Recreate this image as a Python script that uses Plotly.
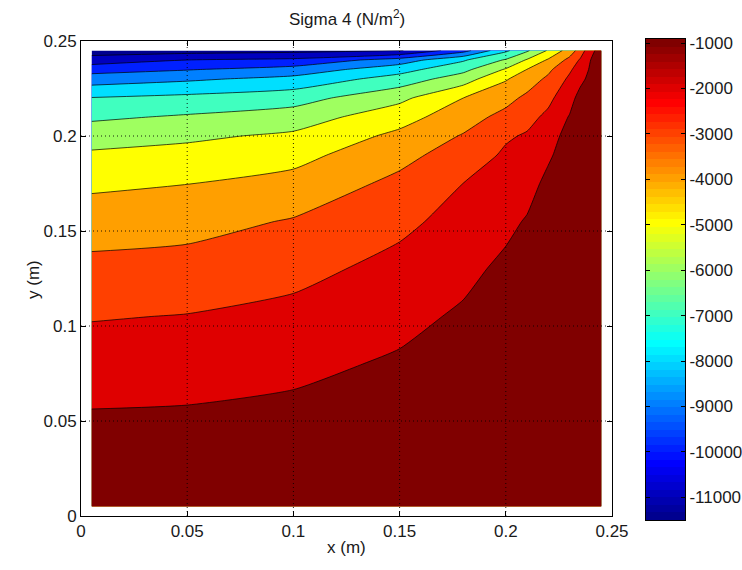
import plotly.graph_objects as go

# ---------------- data ----------------
x_m = [0.005, 0.05, 0.1, 0.15, 0.18, 0.2, 0.21, 0.22, 0.23, 0.235, 0.24, 0.245]
y_m = [0.005, 0.03, 0.055, 0.08, 0.105, 0.13, 0.155, 0.175, 0.19, 0.2,
       0.21, 0.22, 0.23, 0.235, 0.24, 0.245]

# Sigma 4 (N/m^2), one row per y value (bottom to top), columns follow x_m
sigma4 = [
    [-650, -640, -600, -550, -500, -450, -420, -400, -360, -350, -335, -320],
    [-700, -680, -650, -600, -550, -470, -450, -420, -370, -360, -345, -330],
    [-972, -930, -781, -700, -600, -500, -480, -450, -380, -370, -355, -340],
    [-1511, -1446, -1257, -864, -650, -550, -530, -480, -390, -380, -365, -350],
    [-2061, -1963, -1733, -1288, -857, -650, -620, -530, -410, -400, -380, -370],
    [-2722, -2617, -2282, -1712, -1263, -786, -750, -580, -440, -420, -400, -390],
    [-3480, -3351, -2923, -2217, -1669, -1232, -920, -650, -470, -440, -420, -420],
    [-4188, -4018, -3667, -2761, -1994, -1589, -1353, -760, -500, -460, -440, -440],
    [-4843, -4675, -4325, -3294, -2549, -1857, -1684, -1133, -540, -490, -470, -460],
    [-5448, -5183, -4825, -3768, -2925, -2115, -1905, -1465, -600, -520, -500, -480],
    [-6167, -5887, -5520, -4389, -3444, -2690, -2284, -1797, -937, -560, -540, -500],
    [-6960, -6737, -6417, -5250, -4000, -3326, -2781, -2225, -1384, -650, -600, -520],
    [-8500, -8161, -7710, -6571, -5476, -4082, -3519, -2803, -1830, -1272, -700, -540],
    [-9400, -9057, -8593, -7385, -6274, -4902, -3981, -3213, -2141, -1580, -850, -550],
    [-10556, -10000, -9778, -8545, -7116, -5898, -4906, -3880, -2729, -1889, -990, -580],
    [-11500, -11450, -11300, -11100, -9400, -7200, -6150, -4900, -3540, -2590, -1250, -600],
]

contour_levels = [-11000, -10000, -9000, -8000, -7000, -6000,
                  -5000, -4000, -3000, -2000, -1000]
color_min, color_max = -11500, -910
cbar_ticks = [-11000, -10000, -9000, -8000, -7000, -6000,
              -5000, -4000, -3000, -2000, -1000]
axis_ticks = [0, 0.05, 0.1, 0.15, 0.2, 0.25]
axis_ticktext = ["0", "0.05", "0.1", "0.15", "0.2", "0.25"]
grid_vals = [0.05, 0.1, 0.15, 0.2]


# ---------------- MATLAB jet(64) colormap ----------------
def jet(m=64):
    n = -(-m // 4)
    u = [i / n for i in range(1, n + 1)] + [1.0] * (n - 1) + [i / n for i in range(n, 0, -1)]
    g0 = -(-n // 2) - (1 if m % 4 == 1 else 0)
    J = [[0.0, 0.0, 0.0] for _ in range(m)]
    for j, uv in enumerate(u, start=1):
        g = g0 + j
        r = g + n
        b = g - n
        if 1 <= r <= m:
            J[r - 1][0] = uv
        if 1 <= g <= m:
            J[g - 1][1] = uv
        if 1 <= b <= m:
            J[b - 1][2] = uv
    return J


JET = jet(64)
NC = len(JET)


def rgb(c):
    return "rgb(%d,%d,%d)" % tuple(round(v * 255) for v in c)


def jet_color(v):
    idx = int((v - color_min) / (color_max - color_min) * NC)
    idx = min(max(idx, 0), NC - 1)
    return rgb(JET[idx])


# band colours as MATLAB contourf assigns them (colour of lower bounding level)
band_values = [color_min] + contour_levels
nb = len(band_values) - 1
band_scale = [[k / nb, jet_color(v)] for k, v in enumerate(band_values)]

# stepped colormap for the colour bar strip
cbar_scale = []
for i, c in enumerate(JET):
    cbar_scale.append([i / NC, rgb(c)])
    cbar_scale.append([(i + 1) / NC, rgb(c)])
step = (color_max - color_min) / NC
cbar_centers = [color_min + (i + 0.5) * step for i in range(NC)]

FONT = "Liberation Sans, Arial, sans-serif"
TXT = "#1a1a1a"

# pixel layout
L, R_PLOT, CB_L, CB_R = 81, 612, 646, 685
TOP, BOT = 39, 520            # paper area (colour bar extent)
AX_T, AX_B = 41, 516          # main axes extent
W = CB_R - L
H = BOT - TOP


def py(p):
    return (BOT - p) / H


def px(p):
    return (p - L) / W


fig = go.Figure()
fig.add_trace(go.Contour(
    x=x_m, y=y_m, z=sigma4,
    autocontour=False,
    contours=dict(start=contour_levels[0], end=contour_levels[-1],
                  size=contour_levels[1] - contour_levels[0],
                  coloring="fill", showlines=True),
    line=dict(color="black", width=0.7, smoothing=0.55),
    colorscale=band_scale,
    showscale=False,
    hoverinfo="skip",
    xaxis="x", yaxis="y",
))

# colour bar strip drawn as a heatmap in its own axes
fig.add_trace(go.Heatmap(
    x=[0.5], y=cbar_centers, z=[[v] for v in cbar_centers],
    colorscale=cbar_scale, zmin=color_min, zmax=color_max,
    showscale=False, hoverinfo="skip",
    xaxis="x2", yaxis="y2",
))

shapes = []
grid_line = dict(color="rgba(0,0,0,0.85)", width=1, dash="1px,3px")
for g in grid_vals:
    shapes.append(dict(type="line", xref="x", yref="y", x0=g, x1=g, y0=0, y1=0.25,
                       line=grid_line, layer="above"))
    shapes.append(dict(type="line", xref="x", yref="y", x0=0, x1=0.25, y0=g, y1=g,
                       line=grid_line, layer="above"))

axis_common = dict(
    range=[0, 0.25], tickvals=axis_ticks, ticktext=axis_ticktext,
    ticks="inside", ticklen=5, tickcolor="black",
    showline=True, linecolor="black", linewidth=1, mirror="ticks",
    showgrid=False, zeroline=False, automargin=False,
    tickfont=dict(family=FONT, size=17, color=TXT),
)

fig.update_layout(
    width=742, height=570,
    margin=dict(l=L, r=742 - CB_R, t=TOP, b=570 - BOT, autoexpand=False),
    paper_bgcolor="white", plot_bgcolor="white",
    xaxis=dict(**axis_common, domain=[0, px(R_PLOT)], anchor="y"),
    yaxis=dict(**axis_common, domain=[py(AX_B), py(AX_T)], anchor="x"),
    xaxis2=dict(domain=[px(CB_L), 1], anchor="y2", range=[0, 1],
                showticklabels=False, ticks="", showgrid=False, zeroline=False,
                automargin=False,
                showline=True, linecolor="black", linewidth=1, mirror=True),
    yaxis2=dict(domain=[0, 1], anchor="x2", side="right",
                range=[color_min, color_max],
                tickvals=cbar_ticks, ticktext=[str(t) for t in cbar_ticks],
                ticks="inside", ticklen=4, tickcolor="black",
                showgrid=False, zeroline=False, automargin=False,
                showline=True, linecolor="black", linewidth=1, mirror="ticks",
                tickfont=dict(family=FONT, size=17, color=TXT)),
    shapes=shapes,
    showlegend=False,
    annotations=[
        dict(text="Sigma 4 (N/m<sup>2</sup>)", xref="paper", yref="paper",
             x=px(346.5), y=py(18), xanchor="center", yanchor="middle",
             showarrow=False, font=dict(family=FONT, size=17, color=TXT)),
        dict(text="x (m)", xref="paper", yref="paper",
             x=px(346.5), y=py(547), xanchor="center", yanchor="middle",
             showarrow=False, font=dict(family=FONT, size=17, color=TXT)),
        dict(text="y (m)", xref="paper", yref="paper",
             x=px(33), y=py(280), xanchor="center", yanchor="middle",
             textangle=-90, showarrow=False,
             font=dict(family=FONT, size=17, color=TXT)),
    ],
)

fig.write_html("out.html")
